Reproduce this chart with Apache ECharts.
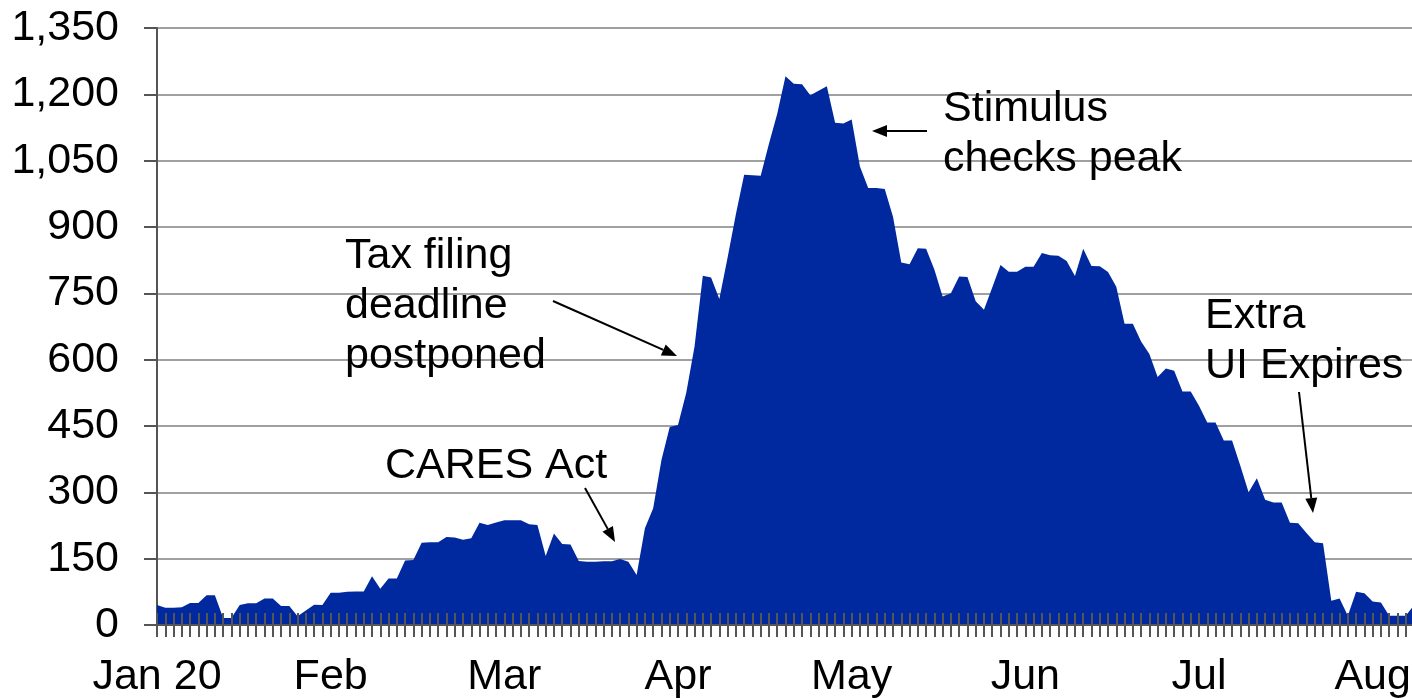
<!DOCTYPE html>
<html>
<head>
<meta charset="utf-8">
<script src="https://cdn.jsdelivr.net/npm/echarts@6/dist/echarts.min.js"></script>
<style>
html, body { margin: 0; padding: 0; background: #fff; }
#main { width: 1412px; height: 698px; }
</style>
</head>
<body>
<div id="main"></div>
<script>
// month labels and the category index each one sits on
const monthLabels = ['Jan 20', 'Feb', 'Mar', 'Apr', 'May', 'Jun', 'Jul', 'Aug']
const monthIndex = [0, 21, 42, 63, 84, 105, 126, 147]

// one value per business day
const values = [
  45, 39, 39, 40, 50, 50, 67, 67, 16, 16,
  45, 49, 49, 60, 60, 43, 43, 20, 33, 46,
  45, 73, 73, 75, 76, 76, 110, 82, 105, 105,
  146, 147, 186, 187, 187, 199, 198, 193, 196, 231,
  226, 232, 237, 237, 237, 228, 226, 156, 207, 183,
  182, 145, 143, 143, 144, 144, 149, 143, 113, 219,
  264, 373, 448, 452, 525, 630, 790, 786, 737, 831,
  929, 1018, 1017, 1016, 1088, 1156, 1241, 1224, 1223, 1198,
  1208, 1218, 1136, 1134, 1143, 1037, 988, 988, 986, 923,
  820, 816, 852, 851, 804, 743, 750, 788, 787, 732,
  713, 763, 814, 799, 799, 810, 810, 841, 836, 835,
  823, 789, 851, 812, 811, 798, 765, 681, 681, 641,
  613, 561, 580, 575, 528, 528, 496, 458, 458, 417,
  417, 360, 300, 332, 283, 277, 277, 231, 230, 208,
  187, 185, 55, 60, 21, 75, 72, 53, 51, 21,
  21, 21, 45
]

// y axis ticks
const yMin = 0
const yMax = 1350
const yStep = 150

const categories = values.map(function (v, i) {
  const j = monthIndex.indexOf(i)
  return j < 0 ? '' : monthLabels[j]
})

const FONT = '"Liberation Sans", Arial, sans-serif'
const FONT_SIZE = 43
const AXIS_COLOR = '#555'

// straight arrow with a filled head at (x2, y2)
function arrow (x1, y1, x2, y2) {
  const a = Math.atan2(y2 - y1, x2 - x1)
  const L = 15
  const W = 6
  const bx = x2 - L * Math.cos(a)
  const by = y2 - L * Math.sin(a)
  const px = -Math.sin(a) * W
  const py = Math.cos(a) * W
  return [
    { type: 'line', z: 20, shape: { x1: x1, y1: y1, x2: bx, y2: by }, style: { stroke: '#000', lineWidth: 2 } },
    { type: 'polygon', z: 20, shape: { points: [[x2, y2], [bx + px, by + py], [bx - px, by - py]] }, style: { fill: '#000' } }
  ]
}

// note text, positioned by the baseline of its first line
function note (x, baseline, text) {
  return {
    type: 'text',
    z: 20,
    x: x,
    y: baseline - 0.3465 * FONT_SIZE - 25,
    style: {
      text: text,
      fontSize: FONT_SIZE,
      fontFamily: FONT,
      lineHeight: 50,
      fill: '#000',
      verticalAlign: 'top',
      textVerticalAlign: 'top'
    }
  }
}

let myChart = echarts.init(document.getElementById('main'))
myChart.setOption({
  animation: false,
  backgroundColor: '#fff',
  grid: { left: 157, right: -2, top: 28, bottom: 73, containLabel: false, outerBoundsMode: 'none' },
  xAxis: [{
    type: 'category',
    data: categories,
    boundaryGap: false,
    z: 5,
    axisLine: { lineStyle: { color: AXIS_COLOR, width: 2 } },
    axisTick: { interval: 0, length: 12, lineStyle: { color: AXIS_COLOR, width: 2 } },
    axisLabel: { interval: 0, margin: 31, color: '#000', fontSize: FONT_SIZE, fontFamily: FONT },
    splitLine: { show: false }
  }, {
    // second copy only for the tick marks that poke up into the area
    type: 'category',
    data: categories,
    boundaryGap: false,
    position: 'bottom',
    z: 5,
    axisLine: { show: false },
    axisTick: { inside: true, interval: 0, length: 12, lineStyle: { color: AXIS_COLOR, width: 2 } },
    axisLabel: { show: false },
    splitLine: { show: false }
  }],
  yAxis: {
    type: 'value',
    min: yMin,
    max: yMax,
    interval: yStep,
    axisLine: { show: true, lineStyle: { color: AXIS_COLOR, width: 2 } },
    axisTick: { show: true, length: 13, lineStyle: { color: AXIS_COLOR, width: 2 } },
    axisLabel: {
      margin: 38,
      padding: [4, 0, 0, 0],
      color: '#000',
      fontSize: FONT_SIZE,
      fontFamily: FONT,
      formatter: function (v) { return v.toLocaleString('en-US') }
    },
    splitLine: { lineStyle: { color: '#a0a0a0', width: 2 } }
  },
  series: [{
    type: 'line',
    data: values,
    symbol: 'none',
    lineStyle: { width: 0 },
    areaStyle: { color: '#0029a0', opacity: 1 },
    z: 2
  }],
  graphic: [
    note(345, 271, 'Tax filing\ndeadline\npostponed'),
    note(385, 481, 'CARES Act'),
    note(943, 124, 'Stimulus\nchecks peak'),
    note(1205, 331, 'Extra\nUI Expires')
  ].concat(
    arrow(553, 301, 677, 356),
    arrow(585, 488, 615, 542),
    arrow(927, 131, 872, 131),
    arrow(1299, 392, 1313, 513)
  )
})
</script>
</body>
</html>
